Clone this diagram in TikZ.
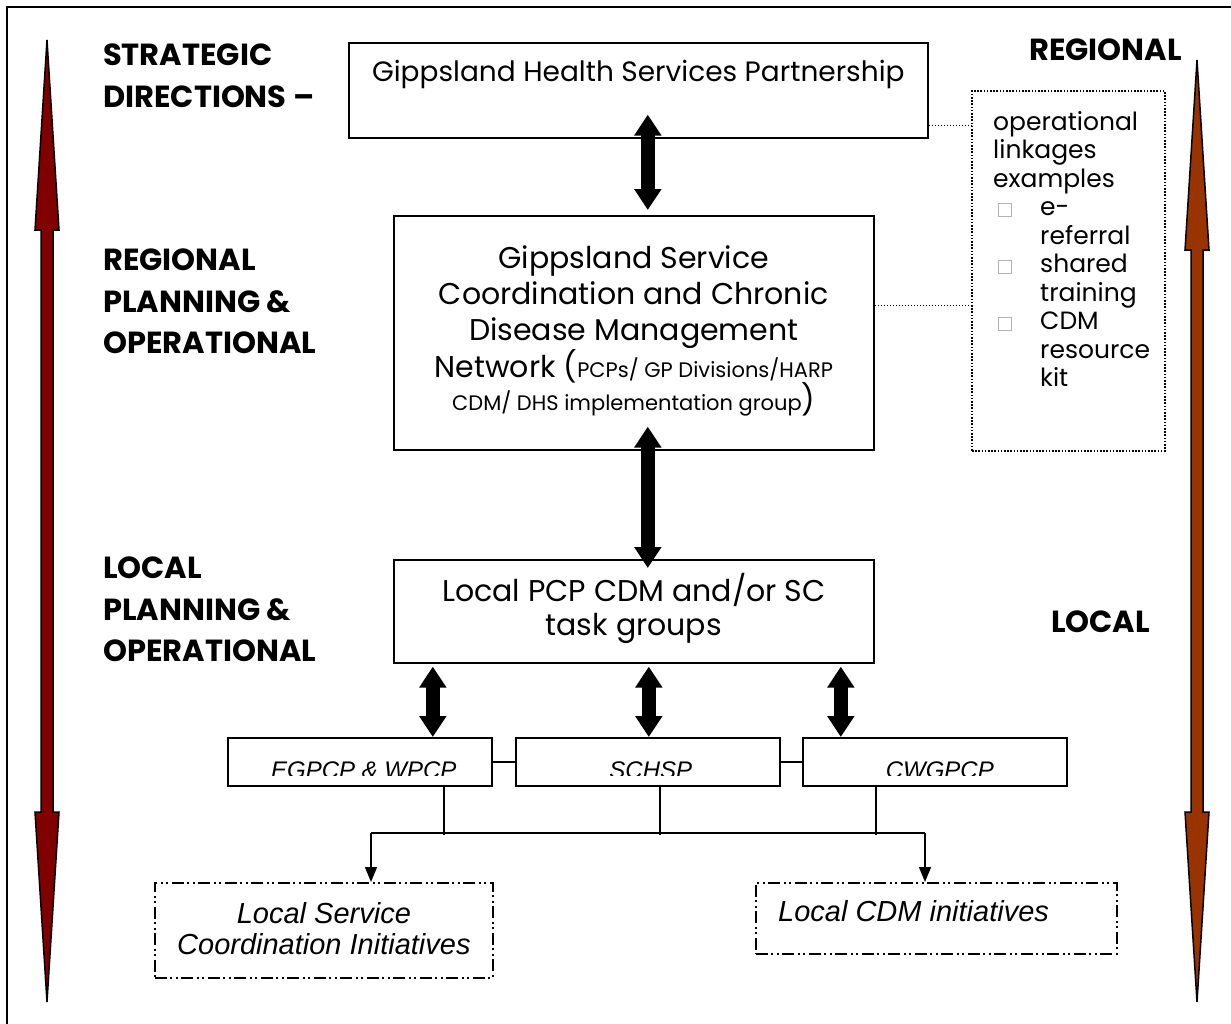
\documentclass[tikz,border=0pt]{standalone}
\usepackage{fontspec}
\setmainfont{Poppins}
\newfontfamily\tagfont{Liberation Sans}
\usetikzlibrary{arrows.meta, calc}
\definecolor{levelred}{HTML}{800000}
\definecolor{levelbrown}{HTML}{993300}
\newcommand{\levelarrow}[4]{%
  \filldraw[fill=#4, draw=black, line width=1.5pt]
    (#1,#2) -- (#1+12,#2+190) -- (#1+6,#2+190) -- (#1+6,#3-190)
    -- (#1+12,#3-190) -- (#1,#3) -- (#1-12,#3-190) -- (#1-6,#3-190)
    -- (#1-6,#2+190) -- (#1-12,#2+190) -- cycle;}
\newcommand{\opsq}{{\setlength\fboxsep{0pt}\setlength\fboxrule{0.8pt}\fcolorbox{gray!60}{white}{\rule{0pt}{12pt}\rule{12pt}{0pt}}}}
\newcommand{\opmark}{\makebox[47pt][l]{\hspace*{5pt}\opsq}}
\newcommand{\opgap}{\hspace*{47pt}}

\begin{document}
\begin{tikzpicture}[x=1pt, y=-1pt,
  box/.style={draw, line width=1.6pt, inner sep=0pt, anchor=north west},
  tagbox/.style={box, minimum width=264pt, minimum height=48pt},
  initbox/.style={draw, line width=1.8pt, dash pattern=on 12pt off 3.5pt on 2pt off 3.5pt on 2pt off 3.5pt, inner sep=0pt, anchor=north west},
  tier/.style={font=\fontsize{30.5pt}{41.5pt}\selectfont\bfseries, align=left, inner sep=0pt},
  tagtext/.style={font=\tagfont\itshape\fontsize{24pt}{28pt}\selectfont, anchor=base, inner sep=0pt},
  inittext/.style={font=\tagfont\itshape\fontsize{29pt}{31pt}\selectfont, inner sep=0pt},
  linkarrow/.style={line width=14pt, {Triangle[length=21pt,width=26pt]}-{Triangle[length=21pt,width=26pt]}},
  drop/.style={line width=1.4pt, -{Triangle[length=15pt,width=12pt]}},
  linkline/.style={line width=1.2pt, dash pattern=on 1.2pt off 1.8pt},
]
\clip (0,0) rectangle (1231,1023);
\draw[line width=1.8pt] (7,7) rectangle (1245,1040);

% level arrows
\levelarrow{47}{40}{1002}{levelred}
\levelarrow{1197}{60}{1002}{levelbrown}

% tier labels
\node[tier, anchor=north west] (stratlabel) at (103,44) {STRATEGIC\\DIRECTIONS --};
\node[tier, anchor=north west] (regionlabel) at (103,249) {REGIONAL\\PLANNING \&\\OPERATIONAL};
\node[tier, anchor=north west] (locallabel) at (103,557) {LOCAL\\PLANNING \&\\OPERATIONAL};
\node[tier, anchor=north east] (regionaltag) at (1182,39) {REGIONAL};
\node[tier, anchor=north east] (localtag) at (1150,611) {LOCAL};

% main boxes
\node[box, minimum width=579pt, minimum height=95pt] (ghsp) at (348,42) {};
\node[font=\fontsize{28pt}{34pt}\selectfont, anchor=base] (ghsptext) at ([yshift=57pt]ghsp.south) {Gippsland Health Services Partnership};
\node[box, minimum width=480pt, minimum height=234pt] (network) at (393,215) {};
\node[font=\fontsize{30pt}{36pt}\selectfont, align=center] (networktext) at ([yshift=2pt]network.center) {Gippsland Service\\Coordination and Chronic\\Disease Management\\Network ({\fontsize{21pt}{33pt}\selectfont PCPs/ GP Divisions/HARP}\\[-3pt]{\fontsize{21pt}{33pt}\selectfont CDM/ DHS implementation group})};
\node[box, minimum width=480pt, minimum height=103pt] (pcpgroups) at (393,559) {};
\node[font=\fontsize{30pt}{34pt}\selectfont, align=center] (pcptext) at ([yshift=3pt]pcpgroups.center) {Local PCP CDM and/or SC\\task groups};

% linkages box
\node[draw, line width=1.8pt, dash pattern=on 1.6pt off 1.6pt, minimum width=193pt, minimum height=360pt, inner sep=0pt, anchor=north west] (ops) at (971,90) {};
\node[font=\fontsize{25pt}{28.5pt}\selectfont, align=left, anchor=north west, inner sep=0pt] (opstext) at ([xshift=22pt,yshift=-21pt]ops.north west) {operational\\linkages\\examples\\
\opmark e-\\\opgap referral\\
\opmark shared\\\opgap training\\
\opmark CDM\\\opgap resource\\\opgap kit};

% partnership boxes
\node[tagbox] (egpcp) at (227,737) {};
\node[tagbox] (schsp) at (515,737) {};
\node[tagbox] (cwgpcp) at (802,737) {};
\begin{scope}
\clip (egpcp.north west) rectangle ([yshift=11pt]cwgpcp.south east);
\node[tagtext] (egpcptext) at ([xshift=4pt,yshift=8pt]egpcp.south) {EGPCP \& WPCP};
\node[tagtext] (schsptext) at ([xshift=3pt,yshift=8pt]schsp.south) {SCHSP};
\node[tagtext] (cwgpcptext) at ([xshift=5pt,yshift=8pt]cwgpcp.south) {CWGPCP};
\end{scope}

% initiatives
\node[initbox, minimum width=338pt, minimum height=95pt] (lscinit) at (154,882) {};
\node[inittext, align=center] (lsctext) at ([yshift=2pt]lscinit.center) {Local Service\\Coordination Initiatives};
\node[initbox, minimum width=361pt, minimum height=71pt] (lcdminit) at (755,882) {};
\node[inittext, anchor=west] (lcdmtext) at ([xshift=23pt,yshift=-29pt]lcdminit.north west) {Local CDM initiatives};

% connectors
\draw[linkarrow] ([xshift=9.5pt,yshift=24pt]ghsp.south) -- ([xshift=14pt,yshift=5pt]network.north);
\draw[linkarrow] ([xshift=14pt,yshift=24pt]network.south) -- ([xshift=14pt,yshift=-9pt]pcpgroups.north);
\draw[linkarrow] ([xshift=-201pt,yshift=-3pt]pcpgroups.south) -- ([xshift=73pt]egpcp.north);
\draw[linkarrow] ([xshift=15pt,yshift=-3pt]pcpgroups.south) -- ([xshift=1pt]schsp.north);
\draw[linkarrow] ([xshift=207pt,yshift=-3pt]pcpgroups.south) -- ([xshift=-94pt]cwgpcp.north);
\draw[line width=1.4pt] (egpcp) -- (schsp);
\draw[line width=1.4pt] (schsp) -- (cwgpcp);
\draw[line width=1.4pt] ([xshift=84pt]egpcp.south) -- ++(0,48);
\draw[line width=1.4pt] ([xshift=12pt]schsp.south) -- ++(0,48);
\draw[line width=1.4pt] ([xshift=-59pt]cwgpcp.south) -- ++(0,48);
\coordinate (busl) at (371,833);
\coordinate (busr) at (925,833);
\draw[line width=1.4pt] (busl) -- (busr);
\draw[drop] (busl) -- (lscinit.north -| busl);
\draw[drop] (busr) -- (lcdminit.north -| busr);
\draw[linkline] ([yshift=13pt]ghsp.south east) coordinate (ghsplink) -- (ghsplink -| ops.west);
\draw[linkline] ([yshift=27pt]network.east) coordinate (netlink) -- (netlink -| ops.west);
\end{tikzpicture}
\end{document}
